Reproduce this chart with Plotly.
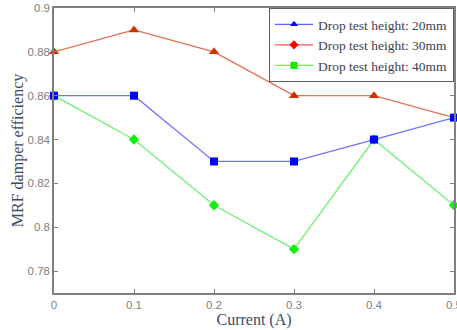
import plotly.graph_objects as go

current = [0, 0.1, 0.2, 0.3, 0.4, 0.5]
eff_20mm = [0.86, 0.86, 0.83, 0.83, 0.84, 0.85]
eff_30mm = [0.88, 0.89, 0.88, 0.86, 0.86, 0.85]
eff_40mm = [0.86, 0.84, 0.81, 0.79, 0.84, 0.81]
legend_names = ["Drop test height: 20mm", "Drop test height: 30mm", "Drop test height: 40mm"]
y_ticks = [0.78, 0.8, 0.82, 0.84, 0.86, 0.88, 0.9]
x_ticks = [0, 0.1, 0.2, 0.3, 0.4, 0.5]

fig = go.Figure()

# plotted data (markers as drawn in the reference)
fig.add_trace(go.Scatter(x=current, y=eff_40mm, mode="lines+markers", showlegend=False,
                         cliponaxis=False,
                         line=dict(color="#70f070", width=1.3),
                         marker=dict(symbol="diamond", size=8, color="#11ee11")))
fig.add_trace(go.Scatter(x=current, y=eff_30mm, mode="lines+markers", showlegend=False,
                         cliponaxis=False,
                         line=dict(color="#e07050", width=1.3),
                         marker=dict(symbol="triangle-up", size=9, color="#cc3300")))
fig.add_trace(go.Scatter(x=current, y=eff_20mm, mode="lines+markers", showlegend=False,
                         cliponaxis=False,
                         line=dict(color="#7070ff", width=1.3),
                         marker=dict(symbol="square", size=8, color="#0000ff")))

# legend entries (symbols as shown in the reference legend)
leg_styles = [("#6060ff", "#0000ff", "triangle-up"),
              ("#ff5050", "#ff0000", "diamond"),
              ("#50ff50", "#00ee00", "square")]
for name, (lc, mc, sym) in zip(legend_names, leg_styles):
    fig.add_trace(go.Scatter(x=[None], y=[None], mode="lines+markers", name=name,
                             line=dict(color=lc, width=1.3),
                             marker=dict(symbol=sym, size=7, color=mc)))

axis_common = dict(showline=True, linecolor="#808080", linewidth=1.5, mirror="ticks",
                   ticks="inside", ticklen=4, tickcolor="#808080", showgrid=False,
                   zeroline=False, automargin=False, ticklabeloverflow="allow",
                   tickfont=dict(family="Liberation Sans, Arial", size=11.5, color="#808080"))

fig.update_layout(
    width=457, height=330,
    margin=dict(l=54, r=3, t=8, b=37),
    plot_bgcolor="white", paper_bgcolor="white",
    xaxis=dict(range=[0, 0.5], tickvals=x_ticks, ticktext=[str(v) for v in x_ticks],
               title=dict(text="Current (A)", standoff=0,
                          font=dict(family="Liberation Serif, Times New Roman", size=16, color="#3a4a6a")),
               **axis_common),
    yaxis=dict(range=[0.77, 0.9], tickvals=y_ticks, ticktext=[str(v) for v in y_ticks],
               title=dict(text="MRF damper efficiency", standoff=0,
                          font=dict(family="Liberation Serif, Times New Roman", size=16, color="#3a4a6a")),
               **axis_common),
    legend=dict(x=1, y=1, xanchor="right", yanchor="top", bgcolor="white",
                bordercolor="#606060", borderwidth=1, tracegroupgap=0, itemwidth=38,
                font=dict(family="Liberation Serif, Times New Roman", size=13.5, color="#404050")),
)

fig.write_html("out.html", config={"displayModeBar": False},
               post_script="document.body.style.margin='0';")
